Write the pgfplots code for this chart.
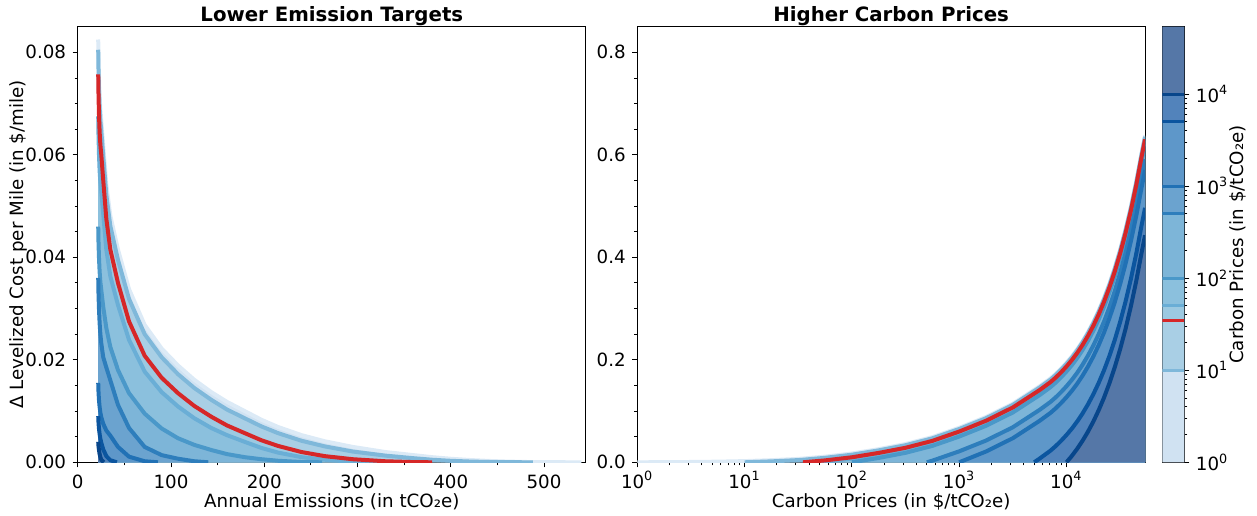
\documentclass[border=0pt]{standalone}
\usepackage{pgfplots}
\pgfplotsset{compat=1.18}
\usepackage{fontspec}
\setmainfont{DejaVu Sans}
\definecolor{fA}{HTML}{D0E2F2}
\definecolor{fB}{HTML}{A9CFE5}
\definecolor{fC}{HTML}{9CC9E1}
\definecolor{fD}{HTML}{8BC0DD}
\definecolor{fE}{HTML}{7DB5D8}
\definecolor{fF}{HTML}{6BA3CF}
\definecolor{fG}{HTML}{5E97C9}
\definecolor{fH}{HTML}{5283BB}
\definecolor{fI}{HTML}{5577A7}
\definecolor{lA}{HTML}{DCEAF6}
\definecolor{lB}{HTML}{7FB8DA}
\definecolor{lC}{HTML}{D62728}
\definecolor{lD}{HTML}{6AAED6}
\definecolor{lE}{HTML}{4A98C9}
\definecolor{lF}{HTML}{2E7EBC}
\definecolor{lG}{HTML}{2171B5}
\definecolor{lH}{HTML}{0B559F}
\definecolor{lI}{HTML}{08468B}
\pgfplotstableread{
E y
22 0.0825
22.3 0.0788
22.8 0.0748
23.5 0.0713
24.3 0.0688
25.3 0.0667
27.4 0.0617
30.7 0.0542
35 0.0481
43.2 0.0415
55 0.0338
71.8 0.0268
90 0.0222
107.5 0.0189
125 0.0161
143.2 0.0137
160 0.0118
179 0.0100
197 0.0083
214.7 0.0069
240 0.0053
265 0.0041
295 0.0030
330 0.0020
360 0.0014
380 0.0010
400 0.00069
420 0.00045
440 0.00027
460 0.00014
480 0.00006
500 0.00002
540 0
}\LA
\pgfplotstableread{
E y
22 0.0805
22.3 0.0768
22.8 0.0728
23.5 0.0692
24.3 0.0667
25.3 0.0647
27.4 0.0597
30.7 0.0522
35 0.0461
43.2 0.0395
55 0.0319
71.8 0.0250
90 0.0205
107.5 0.0172
125 0.0145
143.2 0.0122
160 0.0103
179 0.0086
197 0.0070
214.7 0.0057
240 0.0042
265 0.0031
295 0.0021
330 0.0013
360 0.0008
380 0.0005
400 0.00029
420 0.00015
440 0.00006
460 0.00002
488 0
}\LB
\pgfplotstableread{
E y
22 0.0757
22.3 0.0720
22.8 0.0680
23.5 0.0645
24.3 0.0620
25.3 0.0600
27.4 0.0550
30.7 0.0475
35 0.0415
43.2 0.0350
55 0.0275
71.8 0.0208
90 0.0165
107.5 0.0135
125 0.0110
143.2 0.0089
160 0.0072
179 0.0057
197 0.0043
214.7 0.0032
240 0.0020
265 0.0012
295 0.0006
330 0.0002
360 0.00004
380 0
}\LC
\pgfplotstableread{
E y
22 0.0675
22.3 0.0640
22.8 0.0602
23.5 0.0569
24.3 0.0547
25.3 0.0530
27.4 0.0484
30.7 0.0415
35 0.0363
43.2 0.0307
55 0.0239
71.8 0.0177
90 0.0137
107.5 0.0109
125 0.0086
143.2 0.0067
160 0.0053
179 0.0040
197 0.0028
214.7 0.0019
240 0.0010
265 0.0005
295 0.0001
320 0.00002
336 0
}\LD
\pgfplotstableread{
E y
22 0.0460
22.3 0.0430
22.8 0.0400
23.5 0.0372
24.3 0.0352
25.3 0.0336
27.4 0.0303
30.7 0.0262
35 0.0225
43.2 0.0180
55 0.0135
71.8 0.0095
90 0.0066
107.5 0.0047
125 0.0034
143.2 0.0024
160 0.0016
179 0.0010
197 0.0006
214.7 0.0003
240 0.00005
262 0
}\LE
\pgfplotstableread{
E y
22 0.0360
22.3 0.0330
22.8 0.0300
23.5 0.0272
24.3 0.0250
25.3 0.0232
27.4 0.0205
30.7 0.0185
35 0.0160
43.2 0.0112
55 0.0067
71.8 0.0030
90 0.0014
107.5 0.0007
125 0.0002
140 0
}\LF
\pgfplotstableread{
E y
22 0.0155
22.3 0.0138
22.8 0.0122
23.5 0.0108
24.3 0.0097
25.3 0.0088
27.4 0.0075
30.7 0.0062
35 0.0052
43.2 0.0030
55 0.0011
71.8 0.0002
86 0
}\LG
\pgfplotstableread{
E y
22 0.0090
22.3 0.0078
22.8 0.0066
23.5 0.0055
24.3 0.0046
25.3 0.0038
27.4 0.0025
30.7 0.0012
35 0.0004
42 0
}\LH
\pgfplotstableread{
E y
22 0.0040
22.3 0.0032
22.8 0.0024
23.5 0.0016
24.3 0.0010
25.3 0.0005
28 0
}\LI
\begin{document}
\fontsize{7.3}{8.5}\selectfont
\begin{tikzpicture}
\pgfplotsset{
  every axis/.append style={
    scale only axis,
    axis line style={line width=0.4pt},
    tick align=outside,
    major tick length=2pt, minor tick length=1.2pt,
    every tick/.style={black, line width=0.35pt},
    tick label style={font=\fontsize{7.3}{8.5}\selectfont},
    label style={font=\fontsize{7.3}{8.5}\selectfont},
    /pgf/number format/assume math mode=true,
    xtick pos=left, ytick pos=left,
    xticklabel style={anchor=base, yshift=-8.4pt},
    every axis title/.style={at={(0.5,1)}, anchor=base, yshift=2.1pt, font=\fontsize{7.9}{9}\selectfont\bfseries},
  },
  cl/.style={line width=1.6pt},
}
\path (0pt,0pt) rectangle (502.8pt,205.6pt);
% ---------------- left panel
\begin{axis}[at={(31.08pt,20.68pt)}, anchor=south west, width=203.3pt, height=174.24pt,
  xmin=0, xmax=545, ymin=0, ymax=0.085,
  xtick={0,100,200,300,400,500}, ytick={0,0.02,0.04,0.06,0.08},
  minor x tick num=1, minor y tick num=3,
  scaled y ticks=false,
  yticklabel style={/pgf/number format/.cd, fixed, fixed zerofill, precision=2},
  xlabel={Annual Emissions (in tCO₂e)},
  ylabel={Δ Levelized Cost per Mile (in \$/mile)},
  xlabel style={at={(axis description cs:0.5,-0.09)}, anchor=center},
  ylabel style={at={(axis description cs:-0.1175,0.5)}, anchor=center},
  title={Lower Emission Targets},
]
\addplot[fill=fA, draw=none] table[x=E,y=y] {\LA} \closedcycle;
\addplot[fill=fB, draw=none] table[x=E,y=y] {\LB} \closedcycle;
\addplot[fill=fC, draw=none] table[x=E,y=y] {\LC} \closedcycle;
\addplot[fill=fD, draw=none] table[x=E,y=y] {\LD} \closedcycle;
\addplot[fill=fE, draw=none] table[x=E,y=y] {\LE} \closedcycle;
\addplot[fill=fF, draw=none] table[x=E,y=y] {\LF} \closedcycle;
\addplot[fill=fG, draw=none] table[x=E,y=y] {\LG} \closedcycle;
\addplot[fill=fH, draw=none] table[x=E,y=y] {\LH} \closedcycle;
\addplot[fill=fI, draw=none] table[x=E,y=y] {\LI} \closedcycle;
\addplot[cl, lA] table[x=E,y=y] {\LA};
\addplot[cl, lB] table[x=E,y=y] {\LB};
\addplot[cl, lD] table[x=E,y=y] {\LD};
\addplot[cl, lE] table[x=E,y=y] {\LE};
\addplot[cl, lF] table[x=E,y=y] {\LF};
\addplot[cl, lG] table[x=E,y=y] {\LG};
\addplot[cl, lH] table[x=E,y=y] {\LH};
\addplot[cl, lI] table[x=E,y=y] {\LI};
\addplot[cl, lC] table[x=E,y=y] {\LC};
\node[anchor=base, font=\fontsize{7.9}{9}\selectfont\bfseries, yshift=1.6pt] at (rel axis cs:0,1) {a};
\end{axis}
% ---------------- right panel
\begin{axis}[at={(254.92pt,20.68pt)}, anchor=south west, width=203.1pt, height=174.24pt,
  xmode=log, xmin=1, xmax=54000, ymin=0, ymax=0.85,
  xtick={1,10,100,1000,10000},
  xticklabels={10\textsuperscript{0},10\textsuperscript{1},10\textsuperscript{2},10\textsuperscript{3},10\textsuperscript{4}},
  ytick={0,0.2,0.4,0.6,0.8}, minor y tick num=3,
  scaled y ticks=false,
  yticklabel style={/pgf/number format/.cd, fixed, fixed zerofill, precision=1},
  xlabel={Carbon Prices (in \$/tCO₂e)},
  xlabel style={at={(axis description cs:0.5,-0.09)}, anchor=center},
  title={Higher Carbon Prices},
]
\addplot[fill=fA, draw=none] coordinates {(1,0)(1.778,0.0002)(3.162,0.0006)(5.623,0.0012)(10,0.0023)(17.78,0.0041)(31.62,0.0066)(35,0.0073)(56.23,0.0110)(100,0.0171)(177.8,0.0256)(316.2,0.0356)(562.3,0.0491)(1000,0.0673)(1778,0.0883)(3162,0.1143)(5623,0.1483)(7079,0.1636)(7943,0.1727)(8913,0.1830)(10000,0.1943)(11220,0.2067)(12589,0.2207)(14125,0.2364)(15849,0.2540)(17783,0.2737)(19953,0.2958)(22387,0.3206)(25119,0.3485)(28184,0.3798)(31623,0.4149)(35481,0.4542)(39811,0.4984)(44668,0.5479)(50119,0.6035)(54000,0.6375)} \closedcycle;
\addplot[fill=fB, draw=none] coordinates {(10,0)(17.78,0.0018)(31.62,0.0043)(35,0.0050)(56.23,0.0087)(100,0.0148)(177.8,0.0233)(316.2,0.0333)(562.3,0.0468)(1000,0.0650)(1778,0.0860)(3162,0.1120)(5623,0.1460)(7079,0.1613)(7943,0.1704)(8913,0.1807)(10000,0.1920)(11220,0.2044)(12589,0.2184)(14125,0.2341)(15849,0.2517)(17783,0.2714)(19953,0.2935)(22387,0.3183)(25119,0.3462)(28184,0.3775)(31623,0.4126)(35481,0.4519)(39811,0.4961)(44668,0.5456)(50119,0.6012)(54000,0.6352)} \closedcycle;
\addplot[fill=fC, draw=none] coordinates {(35,0)(56.23,0.0037)(100,0.0098)(177.8,0.0183)(316.2,0.0283)(562.3,0.0418)(1000,0.0600)(1778,0.0810)(3162,0.1070)(5623,0.1410)(7079,0.1563)(7943,0.1654)(8913,0.1757)(10000,0.1870)(11220,0.1994)(12589,0.2134)(14125,0.2291)(15849,0.2467)(17783,0.2664)(19953,0.2885)(22387,0.3133)(25119,0.3412)(28184,0.3725)(31623,0.4076)(35481,0.4469)(39811,0.4911)(44668,0.5406)(50119,0.5962)(54000,0.6302)} \closedcycle;
\addplot[fill=fD, draw=none] coordinates {(50,0)(56.23,0.0010)(100,0.0071)(177.8,0.0156)(316.2,0.0256)(562.3,0.0391)(1000,0.0573)(1778,0.0783)(3162,0.1043)(5623,0.1383)(7079,0.1536)(7943,0.1627)(8913,0.1730)(10000,0.1843)(11220,0.1967)(12589,0.2107)(14125,0.2264)(15849,0.2440)(17783,0.2637)(19953,0.2858)(22387,0.3106)(25119,0.3385)(28184,0.3698)(31623,0.4049)(35481,0.4442)(39811,0.4884)(44668,0.5379)(50119,0.5935)(54000,0.6275)} \closedcycle;
\addplot[fill=fE, draw=none] coordinates {(100,0)(177.8,0.0085)(316.2,0.0185)(562.3,0.0320)(1000,0.0502)(1778,0.0712)(3162,0.0972)(5623,0.1312)(7079,0.1465)(7943,0.1556)(8913,0.1659)(10000,0.1772)(11220,0.1896)(12589,0.2036)(14125,0.2193)(15849,0.2369)(17783,0.2566)(19953,0.2787)(22387,0.3035)(25119,0.3314)(28184,0.3627)(31623,0.3978)(35481,0.4371)(39811,0.4813)(44668,0.5308)(50119,0.5864)(54000,0.6204)} \closedcycle;
\addplot[fill=fF, draw=none] coordinates {(500,0)(562.3,0.0032)(1000,0.0214)(1778,0.0424)(3162,0.0684)(5623,0.1024)(7079,0.1177)(7943,0.1268)(8913,0.1371)(10000,0.1484)(11220,0.1608)(12589,0.1748)(14125,0.1905)(15849,0.2081)(17783,0.2278)(19953,0.2499)(22387,0.2747)(25119,0.3026)(28184,0.3339)(31623,0.3690)(35481,0.4083)(39811,0.4525)(44668,0.5020)(50119,0.5576)(54000,0.5916)} \closedcycle;
\addplot[fill=fG, draw=none] coordinates {(1000,0)(1778,0.0210)(3162,0.0470)(5623,0.0810)(7079,0.0963)(7943,0.1054)(8913,0.1157)(10000,0.1270)(11220,0.1394)(12589,0.1534)(14125,0.1691)(15849,0.1867)(17783,0.2064)(19953,0.2285)(22387,0.2533)(25119,0.2812)(28184,0.3125)(31623,0.3476)(35481,0.3869)(39811,0.4311)(44668,0.4806)(50119,0.5362)(54000,0.5702)} \closedcycle;
\addplot[fill=fH, draw=none] coordinates {(5000,0)(5623,0.0073)(7079,0.0226)(7943,0.0317)(8913,0.0420)(10000,0.0533)(11220,0.0657)(12589,0.0797)(14125,0.0954)(15849,0.1130)(17783,0.1327)(19953,0.1548)(22387,0.1796)(25119,0.2075)(28184,0.2388)(31623,0.2739)(35481,0.3132)(39811,0.3574)(44668,0.4069)(50119,0.4625)(54000,0.4965)} \closedcycle;
\addplot[fill=fI, draw=none] coordinates {(10000,0)(11220,0.0124)(12589,0.0264)(14125,0.0421)(15849,0.0597)(17783,0.0794)(19953,0.1015)(22387,0.1263)(25119,0.1542)(28184,0.1855)(31623,0.2206)(35481,0.2599)(39811,0.3041)(44668,0.3536)(50119,0.4092)(54000,0.4432)} \closedcycle;
% lines
\addplot[cl, lA] coordinates {(1,0)(1.778,0.0002)(3.162,0.0006)(5.623,0.0012)(10,0.0023)(17.78,0.0041)(31.62,0.0066)(35,0.0073)(56.23,0.0110)(100,0.0171)(177.8,0.0256)(316.2,0.0356)(562.3,0.0491)(1000,0.0673)(1778,0.0883)(3162,0.1143)(5623,0.1483)(7079,0.1636)(7943,0.1727)(8913,0.1830)(10000,0.1943)(11220,0.2067)(12589,0.2207)(14125,0.2364)(15849,0.2540)(17783,0.2737)(19953,0.2958)(22387,0.3206)(25119,0.3485)(28184,0.3798)(31623,0.4149)(35481,0.4542)(39811,0.4984)(44668,0.5479)(50119,0.6035)(54000,0.6375)};
\addplot[cl, lB] coordinates {(10,0)(17.78,0.0018)(31.62,0.0043)(35,0.0050)(56.23,0.0087)(100,0.0148)(177.8,0.0233)(316.2,0.0333)(562.3,0.0468)(1000,0.0650)(1778,0.0860)(3162,0.1120)(5623,0.1460)(7079,0.1613)(7943,0.1704)(8913,0.1807)(10000,0.1920)(11220,0.2044)(12589,0.2184)(14125,0.2341)(15849,0.2517)(17783,0.2714)(19953,0.2935)(22387,0.3183)(25119,0.3462)(28184,0.3775)(31623,0.4126)(35481,0.4519)(39811,0.4961)(44668,0.5456)(50119,0.6012)(54000,0.6352)};
\addplot[cl, lD] coordinates {(50,0)(56.23,0.0010)(100,0.0071)(177.8,0.0156)(316.2,0.0256)(562.3,0.0391)(1000,0.0573)(1778,0.0783)(3162,0.1043)(5623,0.1383)(7079,0.1536)(7943,0.1627)(8913,0.1730)(10000,0.1843)(11220,0.1967)(12589,0.2107)(14125,0.2264)(15849,0.2440)(17783,0.2637)(19953,0.2858)(22387,0.3106)(25119,0.3385)(28184,0.3698)(31623,0.4049)(35481,0.4442)(39811,0.4884)(44668,0.5379)(50119,0.5935)(54000,0.6275)};
\addplot[cl, lE] coordinates {(100,0)(177.8,0.0085)(316.2,0.0185)(562.3,0.0320)(1000,0.0502)(1778,0.0712)(3162,0.0972)(5623,0.1312)(7079,0.1465)(7943,0.1556)(8913,0.1659)(10000,0.1772)(11220,0.1896)(12589,0.2036)(14125,0.2193)(15849,0.2369)(17783,0.2566)(19953,0.2787)(22387,0.3035)(25119,0.3314)(28184,0.3627)(31623,0.3978)(35481,0.4371)(39811,0.4813)(44668,0.5308)(50119,0.5864)(54000,0.6204)};
\addplot[cl, lF] coordinates {(500,0)(562.3,0.0032)(1000,0.0214)(1778,0.0424)(3162,0.0684)(5623,0.1024)(7079,0.1177)(7943,0.1268)(8913,0.1371)(10000,0.1484)(11220,0.1608)(12589,0.1748)(14125,0.1905)(15849,0.2081)(17783,0.2278)(19953,0.2499)(22387,0.2747)(25119,0.3026)(28184,0.3339)(31623,0.3690)(35481,0.4083)(39811,0.4525)(44668,0.5020)(50119,0.5576)(54000,0.5916)};
\addplot[cl, lG] coordinates {(1000,0)(1778,0.0210)(3162,0.0470)(5623,0.0810)(7079,0.0963)(7943,0.1054)(8913,0.1157)(10000,0.1270)(11220,0.1394)(12589,0.1534)(14125,0.1691)(15849,0.1867)(17783,0.2064)(19953,0.2285)(22387,0.2533)(25119,0.2812)(28184,0.3125)(31623,0.3476)(35481,0.3869)(39811,0.4311)(44668,0.4806)(50119,0.5362)(54000,0.5702)};
\addplot[cl, lH] coordinates {(5000,0)(5623,0.0073)(7079,0.0226)(7943,0.0317)(8913,0.0420)(10000,0.0533)(11220,0.0657)(12589,0.0797)(14125,0.0954)(15849,0.1130)(17783,0.1327)(19953,0.1548)(22387,0.1796)(25119,0.2075)(28184,0.2388)(31623,0.2739)(35481,0.3132)(39811,0.3574)(44668,0.4069)(50119,0.4625)(54000,0.4965)};
\addplot[cl, lI] coordinates {(10000,0)(11220,0.0124)(12589,0.0264)(14125,0.0421)(15849,0.0597)(17783,0.0794)(19953,0.1015)(22387,0.1263)(25119,0.1542)(28184,0.1855)(31623,0.2206)(35481,0.2599)(39811,0.3041)(44668,0.3536)(50119,0.4092)(54000,0.4432)};
\addplot[cl, lC] coordinates {(35,0)(56.23,0.0037)(100,0.0098)(177.8,0.0183)(316.2,0.0283)(562.3,0.0418)(1000,0.0600)(1778,0.0810)(3162,0.1070)(5623,0.1410)(7079,0.1563)(7943,0.1654)(8913,0.1757)(10000,0.1870)(11220,0.1994)(12589,0.2134)(14125,0.2291)(15849,0.2467)(17783,0.2664)(19953,0.2885)(22387,0.3133)(25119,0.3412)(28184,0.3725)(31623,0.4076)(35481,0.4469)(39811,0.4911)(44668,0.5406)(50119,0.5962)(54000,0.6302)};
\node[anchor=base, font=\fontsize{7.9}{9}\selectfont\bfseries, yshift=1.6pt] at (rel axis cs:0,1) {b};
\end{axis}
% ---------------- colorbar
\begin{axis}[at={(464.92pt,20.68pt)}, anchor=south west, width=8.8pt, height=174.24pt,
  xmin=0, xmax=1, ymode=log, ymin=1, ymax=54000,
  xtick=\empty, ytick pos=right, yticklabel pos=right,
  ytick={1,10,100,1000,10000},
  yticklabels={10\textsuperscript{0},10\textsuperscript{1},10\textsuperscript{2},10\textsuperscript{3},10\textsuperscript{4}},
  ylabel={Carbon Prices (in \$/tCO₂e)},
  ylabel style={at={(axis description cs:3.42,0.5)}, anchor=center},
]
\addplot[fill=fA, draw=none] coordinates {(0,1)(1,1)(1,10)(0,10)(0,1)};
\addplot[fill=fB, draw=none] coordinates {(0,10)(1,10)(1,35)(0,35)(0,10)};
\addplot[fill=fC, draw=none] coordinates {(0,35)(1,35)(1,50)(0,50)(0,35)};
\addplot[fill=fD, draw=none] coordinates {(0,50)(1,50)(1,100)(0,100)(0,50)};
\addplot[fill=fE, draw=none] coordinates {(0,100)(1,100)(1,500)(0,500)(0,100)};
\addplot[fill=fF, draw=none] coordinates {(0,500)(1,500)(1,1000)(0,1000)(0,500)};
\addplot[fill=fG, draw=none] coordinates {(0,1000)(1,1000)(1,5000)(0,5000)(0,1000)};
\addplot[fill=fH, draw=none] coordinates {(0,5000)(1,5000)(1,10000)(0,10000)(0,5000)};
\addplot[fill=fI, draw=none] coordinates {(0,10000)(1,10000)(1,54000)(0,54000)(0,10000)};
\addplot[line width=1.2pt, lB] coordinates {(0,10)(1,10)};
\addplot[line width=1.2pt, lD] coordinates {(0,50)(1,50)};
\addplot[line width=1.2pt, lE] coordinates {(0,100)(1,100)};
\addplot[line width=1.2pt, lF] coordinates {(0,500)(1,500)};
\addplot[line width=1.2pt, lG] coordinates {(0,1000)(1,1000)};
\addplot[line width=1.2pt, lH] coordinates {(0,5000)(1,5000)};
\addplot[line width=1.2pt, lI] coordinates {(0,10000)(1,10000)};
\addplot[line width=1.2pt, lC] coordinates {(0,35)(1,35)};
\end{axis}
\end{tikzpicture}
\end{document}
